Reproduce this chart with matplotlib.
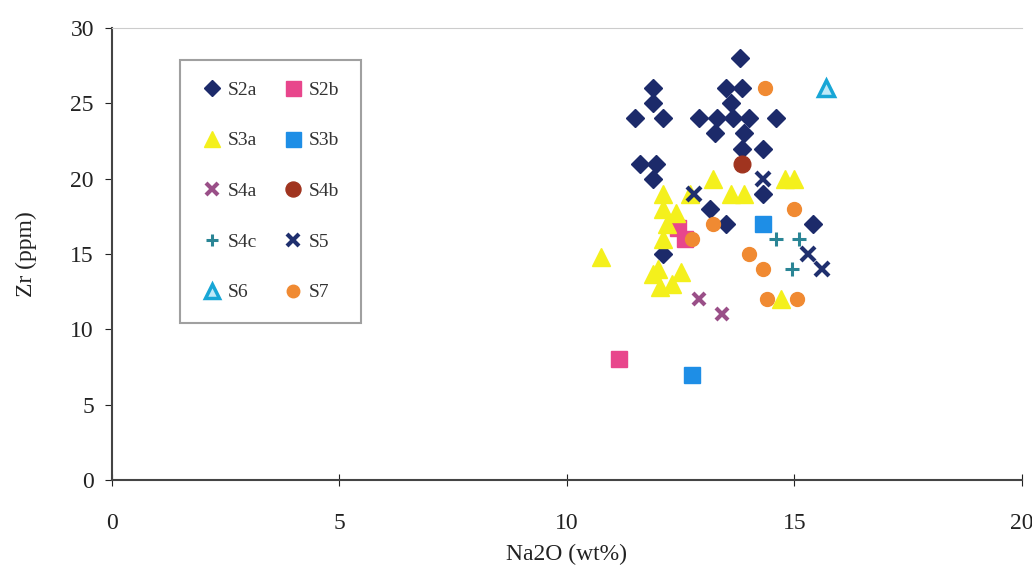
import numpy as np
import matplotlib
matplotlib.use('Agg')
import matplotlib.pyplot as plt

plt.rcParams['font.family'] = ['Liberation Serif', 'DejaVu Serif']

# Na2O (wt%) / Zr (ppm) per group
s2a_x = [13.8, 11.9, 11.9, 11.5, 12.1, 13.5, 13.85, 13.6, 12.9, 13.3, 13.65, 14.0, 14.6,
         13.25, 13.9, 13.85, 14.3, 11.6, 11.95, 11.9, 14.3, 13.15, 13.5, 15.4, 12.1]
s2a_y = [28, 26, 25, 24, 24, 26, 26, 25, 24, 24, 24, 24, 24,
         23, 23, 22, 22, 21, 21, 20, 19, 18, 17, 17, 15]
s2b_x = [12.45, 12.6, 11.15]
s2b_y = [16.7, 16, 8]
s3a_x = [10.75, 12.1, 12.1, 12.2, 12.1, 12.0, 11.9, 12.05, 12.3, 12.5, 12.4, 12.7,
         13.2, 13.6, 13.9, 14.8, 15.0, 14.7]
s3a_y = [14.8, 19, 18, 17, 16, 14, 13.7, 12.8, 13, 13.8, 17.7, 19,
         20, 19, 19, 20, 20, 12]
s3b_x = [14.3, 12.75]
s3b_y = [17, 7]
s4a_x = [12.9, 13.4]
s4a_y = [12, 11]
s4b_x = [13.85]
s4b_y = [21]
s4c_x = [14.6, 15.1, 14.95]
s4c_y = [16, 16, 14]
s5_x = [14.3, 12.8, 15.3, 15.6]
s5_y = [20, 19, 15, 14]
s6_x = [15.7]
s6_y = [26]
s7_x = [14.35, 15.0, 13.2, 12.75, 14.0, 14.3, 14.4, 15.05]
s7_y = [26, 18, 17, 16, 15, 14, 12, 12]

fig, ax = plt.subplots(figsize=(10.32, 5.66), dpi=100)
fig.subplots_adjust(left=0.1085, right=0.9903, top=0.9505, bottom=0.152)

h = {}
h['S2a'], = ax.plot(s2a_x, s2a_y, 'D', color='#1c2a6a', ms=9, ls='none')
h['S2b'], = ax.plot(s2b_x, s2b_y, 's', color='#e8468c', ms=12, ls='none')
h['S3a'], = ax.plot(s3a_x, s3a_y, '^', color='#f4f01c', ms=13, ls='none')
h['S3b'], = ax.plot(s3b_x, s3b_y, 's', color='#1e8ee6', ms=12, ls='none')
h['S4a'], = ax.plot(s4a_x, s4a_y, 'x', color='#9a4f88', ms=9, mew=3, ls='none')
h['S4b'], = ax.plot(s4b_x, s4b_y, 'o', color='#a0341f', ms=12, ls='none')
h['S4c'], = ax.plot(s4c_x, s4c_y, '+', color='#2a8595', ms=10, mew=2.2, ls='none')
h['S5'], = ax.plot(s5_x, s5_y, 'x', color='#1f2f6e', ms=10, mew=3, ls='none')
h['S6'], = ax.plot(s6_x, s6_y, '^', mfc='#bfe9f8', mec='#18a6d6', mew=2.5, ms=11, ls='none')
h['S7'], = ax.plot(s7_x, s7_y, 'o', color='#f08a32', ms=10, ls='none')

ax.set_xlim(0, 20)
ax.set_ylim(0, 30)
ax.set_xticks([0, 5, 10, 15, 20])
ax.set_yticks([0, 5, 10, 15, 20, 25, 30])
ax.tick_params(axis='x', direction='inout', length=8, labelsize=17, pad=20, colors='#222222')
ax.tick_params(axis='y', direction='out', length=5, labelsize=17, pad=8, colors='#222222')
ax.set_xlabel('Na2O (wt%)', fontsize=17, labelpad=7, color='#222222')
ax.set_ylabel('Zr (ppm)', fontsize=17, labelpad=24, color='#222222')

for side in ['left', 'bottom']:
    ax.spines[side].set_color('#444444')
    ax.spines[side].set_linewidth(1.5)
ax.spines['top'].set_color('#cccccc')
ax.spines['right'].set_visible(False)

# matplotlib fills legend columns first, so order for row-wise reading
order = ['S2a', 'S3a', 'S4a', 'S4c', 'S6', 'S2b', 'S3b', 'S4b', 'S5', 'S7']
leg = ax.legend([h[k] for k in order], order, ncol=2, loc='upper left',
                bbox_to_anchor=(0.075, 0.93), borderaxespad=0,
                fontsize=14, labelspacing=1.7, columnspacing=1.3, handletextpad=0.25,
                handlelength=1.1, borderpad=1.1, frameon=True, fancybox=False,
                markerscale=0.9)
leg.get_frame().set_edgecolor('#888888')
leg.get_frame().set_linewidth(1.5)
for t in leg.get_texts():
    t.set_color('#333333')

plt.savefig('out.png', dpi=100)
